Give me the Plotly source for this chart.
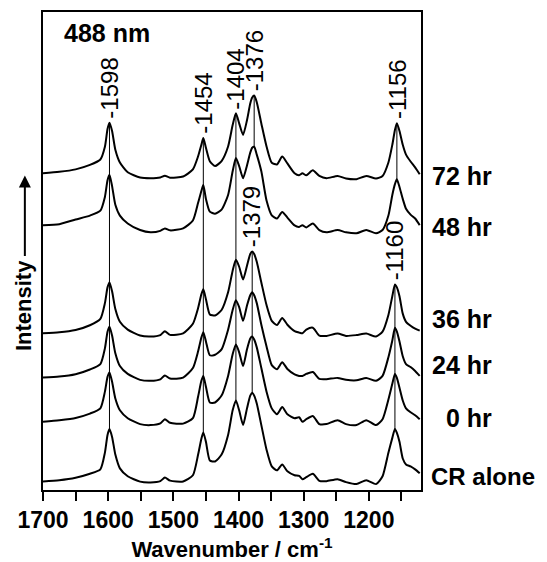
import plotly.graph_objects as go

# Raman spectra, 488 nm excitation (stacked, arbitrary intensity units)
wavenumber = [1700, 1675, 1650, 1628, 1612, 1605, 1601, 1598, 1594, 1589,
              1582, 1570, 1551, 1535, 1520, 1513, 1505, 1485, 1470, 1462,
              1457, 1454, 1450, 1444, 1436, 1426, 1416, 1409, 1404, 1399,
              1393, 1387, 1382, 1379, 1376, 1372, 1365, 1357, 1349, 1341,
              1333, 1325, 1314, 1307, 1302, 1296, 1286, 1276, 1265, 1248,
              1235, 1219, 1204, 1189, 1179, 1170, 1164, 1160, 1157, 1153,
              1148, 1143, 1136, 1129, 1122]

hr72 = [322, 323.5, 326, 330.5, 336, 349, 367, 373.5, 365, 346,
        333, 323, 317.7, 317, 317.7, 319.5, 317.5, 318.7, 326, 339.3,
        351, 358, 348, 334.3, 329.3, 334.5, 349.3, 371, 383, 372.7,
        361, 376, 393, 399, 401, 394.3, 372.7, 349.3, 332.7, 331,
        339, 332, 322, 320, 322, 320, 325, 319.3, 317, 319.3,
        316.7, 316, 319.3, 316.7, 319.3, 333, 351, 366, 373, 365,
        351, 341, 334, 328, 321]

hr48 = [269.3, 270.3, 275, 279, 284, 298, 315, 320.5, 309, 290,
        279, 271, 264.3, 262, 263.5, 266, 264, 266, 274, 292,
        304, 310, 296, 283, 281, 285, 300, 324, 337.5, 329.3,
        317, 330, 343, 348, 349, 341, 324, 294.3, 279.3, 276,
        282.7, 277, 269, 267.5, 269.3, 267, 271, 264.3, 262, 264.3,
        262, 261, 264.3, 261, 264.3, 279, 300, 311, 316, 308,
        296, 286, 280, 276, 269.3]

hr36 = [159.3, 160.3, 162.7, 167.5, 174, 190, 206, 211, 202, 184,
        171, 163, 157, 156, 157.5, 161.5, 157.7, 159.3, 169, 185,
        199, 204, 194, 178.5, 177.5, 183, 201, 223, 234, 227,
        214, 228, 240, 242.5, 240, 232, 211, 188, 172, 167.7,
        175, 168, 161.5, 160, 159.3, 163, 165, 157, 156.7, 159,
        156.7, 157.5, 159, 156, 161, 178, 197, 209, 206, 197,
        179.3, 171, 167, 164, 162]

hr24 = [114.3, 115.3, 117.7, 122.5, 128, 144, 161, 166, 157, 139,
        126, 118, 112, 111, 112.5, 116.5, 113.3, 114.3, 124, 141,
        155, 160.5, 151, 137, 137.5, 143, 163, 183, 193, 186,
        172, 187.5, 198, 201, 198, 190, 168, 146, 127, 122.7,
        130, 123, 117.5, 116, 116, 118, 120, 113, 112.7, 114,
        112, 111.5, 114, 111, 116, 135, 152, 165, 161, 151,
        136, 128, 125, 121, 116]

hr0 = [69.3, 71, 73.3, 77.7, 83, 100, 115, 119.5, 110, 93,
       81, 73, 67, 66, 67.7, 72, 68.3, 67.5, 73, 95,
       111, 116, 105, 89, 89, 96, 116, 138, 148, 140,
       126, 143, 154, 156, 153, 145, 124, 100, 83, 77,
       84.3, 77, 73, 74, 69.3, 72, 75.3, 67, 67, 71,
       67, 66, 71, 66, 72, 92, 108, 118, 114, 104,
       91, 83, 79, 76, 72]

cr_alone = [8.7, 10, 12.5, 16.5, 21, 38, 56, 62, 54, 36,
            22, 14, 8.5, 7.7, 9, 12.7, 9.5, 8.7, 15, 36,
            52, 58.5, 49, 30, 29, 36, 56, 81, 91, 81,
            66, 83, 96, 99, 96, 88, 66, 41, 24, 20,
            26, 19, 15, 14.3, 11, 13, 16.5, 9.3, 9, 11,
            8, 6, 10, 6, 14, 38, 53, 62, 58, 49,
            32, 26, 24, 21, 17]

series_names = ['72 hr', '48 hr', '36 hr', '24 hr', '0 hr', 'CR alone']
series = [hr72, hr48, hr36, hr24, hr0, cr_alone]

# peak markers: (label, wavenumber on grid, upper trace, lower trace)
peaks = [('1598', 1598, hr72, cr_alone),
         ('1454', 1454, hr72, cr_alone),
         ('1404', 1404, hr72, cr_alone),
         ('1376', 1376, hr72, hr48),
         ('1156', 1157, hr72, hr48),
         ('1379', 1379, hr36, cr_alone),
         ('1160', 1160, hr36, cr_alone)]

FONT = 'Liberation Sans, Arial, sans-serif'

fig = go.Figure()
for name, ys in zip(series_names, series):
    fig.add_trace(go.Scatter(x=wavenumber, y=ys, mode='lines', name=name,
                             line=dict(color='black', width=2, shape='spline', smoothing=0.6)))

shapes = []
annots = []
for lab, wn, top, bottom in peaks:
    i = wavenumber.index(wn)
    shapes.append(dict(type='line', xref='x', yref='y', x0=wn, x1=wn, y0=bottom[i], y1=top[i],
                       line=dict(color='black', width=1), layer='below'))
    annots.append(dict(x=wn, y=top[i], xref='x', yref='y', text='-' + lab, textangle=-90,
                       showarrow=False, xanchor='center', yanchor='bottom', yshift=2,
                       font=dict(family=FONT, size=24, color='black')))

# right-hand series labels
label_y = [319.3, 267.7, 174, 127, 73, 14]
for name, ly in zip(series_names, label_y):
    if name == 'CR alone':
        annots.append(dict(x=1.021, y=ly, xref='paper', yref='y', text='<b>' + name + '</b>',
                           showarrow=False, xanchor='left', yanchor='middle',
                           font=dict(family=FONT, size=24, color='black')))
    else:
        annots.append(dict(x=1.193, y=ly, xref='paper', yref='y', text='<b>' + name + '</b>',
                           showarrow=False, xanchor='right', yanchor='middle',
                           font=dict(family=FONT, size=25, color='black')))

annots.append(dict(x=0.05, y=0.957, xref='paper', yref='paper', text='<b>488 nm</b>',
                   showarrow=False, xanchor='left', yanchor='middle',
                   font=dict(family=FONT, size=25, color='black')))

# Intensity arrow and label
annots.append(dict(x=-0.048, y=0.658, xref='paper', yref='paper', text='',
                   showarrow=True, ax=0, ay=82, arrowhead=2, arrowsize=1.2,
                   arrowwidth=2, arrowcolor='black'))
annots.append(dict(x=-0.05, y=0.385, xref='paper', yref='paper', text='<b>Intensity</b>',
                   textangle=-90, showarrow=False, xanchor='center', yanchor='middle',
                   font=dict(family=FONT, size=22, color='black')))

# page body has an 8px margin, so the figure is sized to fit inside the window
fig.update_layout(
    width=539, height=554,
    margin=dict(l=35, r=126, t=2, b=66),
    paper_bgcolor='white', plot_bgcolor='white',
    showlegend=False,
    shapes=shapes,
    annotations=annots,
    xaxis=dict(range=[1700, 1120], tickvals=[1700, 1600, 1500, 1400, 1300, 1200],
               ticks='outside', ticklen=9, tickwidth=1.5, tickcolor='black',
               minor=dict(tickvals=[1650, 1550, 1450, 1350, 1250, 1150], ticks='outside',
                          ticklen=9, tickwidth=1.5, tickcolor='black'),
               showline=True, linecolor='black', linewidth=1.5, mirror=True,
               showgrid=False, zeroline=False,
               tickfont=dict(family=FONT, size=23, color='black', weight='bold'),
               title=dict(text='<b>Wavenumber / cm<sup>-1</sup></b>', standoff=11,
                          font=dict(family=FONT, size=22, color='black'))),
    yaxis=dict(range=[0, 486], showticklabels=False, ticks='',
               showline=True, linecolor='black', linewidth=1.5, mirror=True,
               showgrid=False, zeroline=False),
)

fig.write_html("out.html")
